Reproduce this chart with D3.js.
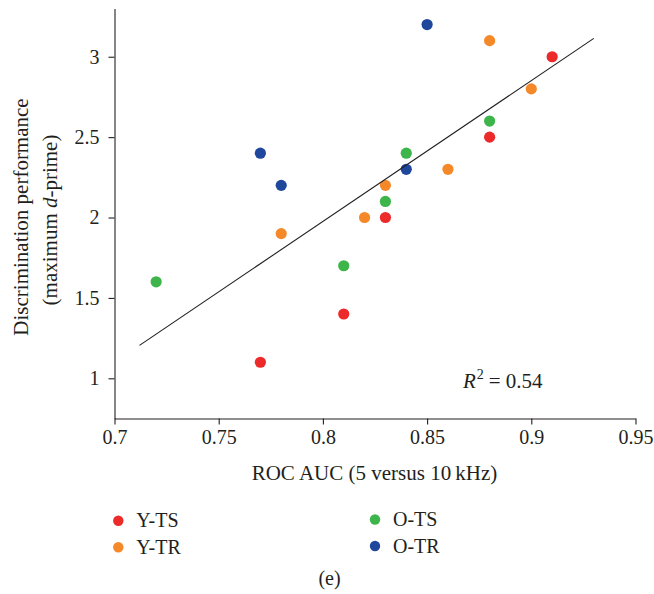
<!DOCTYPE html>
<html>
<head>
<meta charset="utf-8">
<script src="https://cdn.jsdelivr.net/npm/d3@7"></script>
<style>
  html, body { margin: 0; padding: 0; background: #fff; }
  svg { display: block; }
  text { font-family: "Liberation Serif", "Times New Roman", serif; fill: #231f20; }
</style>
</head>
<body>
<svg id="chart" width="654" height="594"></svg>
<script>
// ---- data ----
const groups = ["Y-TS", "Y-TR", "O-TS", "O-TR"];
const groupColors = ["#ec2a2a", "#f5892a", "#3db54a", "#1f489c"];

const ytsX = [0.91, 0.88, 0.83, 0.81, 0.77];
const ytsY = [3.0, 2.5, 2.0, 1.4, 1.1];

const ytrX = [0.88, 0.90, 0.86, 0.83, 0.82, 0.78];
const ytrY = [3.1, 2.8, 2.3, 2.2, 2.0, 1.9];

const otsX = [0.88, 0.84, 0.83, 0.81, 0.72];
const otsY = [2.6, 2.4, 2.1, 1.7, 1.6];

const otrX = [0.85, 0.84, 0.77, 0.78];
const otrY = [3.2, 2.3, 2.4, 2.2];

const trendX = [0.712, 0.930];
const trendY = [1.205, 3.114];

const xTicks = [0.7, 0.75, 0.8, 0.85, 0.9, 0.95];
const xTickLabels = ["0.7", "0.75", "0.8", "0.85", "0.9", "0.95"];
const yTicks = [1, 1.5, 2, 2.5, 3];
const yTickLabels = ["1", "1.5", "2", "2.5", "3"];

const xTitle = "ROC AUC (5 versus 10\u2009kHz)";
const yTitle1 = "Discrimination performance";
const rSquared = "0.54";
const panelLabel = "(e)";

// ---- build ----
const seriesX = [ytsX, ytrX, otsX, otrX];
const seriesY = [ytsY, ytrY, otsY, otrY];
const points = [];
groups.forEach((g, i) => seriesX[i].forEach((x, j) => points.push({ g: i, x: x, y: seriesY[i][j] })));

const svg = d3.select("#chart");
const x = d3.scaleLinear().domain([0.7, 0.95]).range([114.5, 635.5]);
const y = d3.scaleLinear().domain([0.75, 3.3]).range([418.5, 8.5]);

// axes
const xAxis = d3.axisBottom(x).tickValues(xTicks).tickFormat((d, i) => xTickLabels[i]).tickSize(6).tickSizeOuter(0).tickPadding(5);
const yAxis = d3.axisLeft(y).tickValues(yTicks).tickFormat((d, i) => yTickLabels[i]).tickSize(6).tickSizeOuter(0).tickPadding(9);

const gx = svg.append("g").attr("transform", "translate(0,418.5)").call(xAxis);
const gy = svg.append("g").attr("transform", "translate(114.5,0)").call(yAxis);
[gx, gy].forEach(g => {
  g.select(".domain").attr("stroke", "#231f20").attr("stroke-width", 1.1);
  g.selectAll(".tick line").attr("stroke", "#231f20").attr("stroke-width", 1.1);
  g.selectAll(".tick text").attr("font-size", 20).attr("font-family", "Liberation Serif, serif").attr("fill", "#231f20");
});

// points
svg.append("g").selectAll("circle").data(points).join("circle")
  .attr("cx", d => x(d.x)).attr("cy", d => y(d.y)).attr("r", 5.6)
  .attr("fill", d => groupColors[d.g]);

// trend line
svg.append("line")
  .attr("x1", x(trendX[0])).attr("y1", y(trendY[0]))
  .attr("x2", x(trendX[1])).attr("y2", y(trendY[1]))
  .attr("stroke", "#231f20").attr("stroke-width", 1.1);

// R^2
const rt = svg.append("text").attr("x", 463).attr("y", 388).attr("font-size", 21);
rt.append("tspan").attr("font-style", "italic").text("R");
rt.append("tspan").attr("font-size", 14).attr("dy", -9).attr("dx", 1).text("2");
rt.append("tspan").attr("dy", 9).attr("dx", 5).text("=");
rt.append("tspan").attr("dx", 5).text(rSquared);

// x title
svg.append("text").attr("x", 374.5).attr("y", 479.5).attr("text-anchor", "middle")
  .attr("font-size", 21).text(xTitle);

// y title (two lines, rotated)
svg.append("text").attr("transform", "translate(28,217) rotate(-90)")
  .attr("text-anchor", "middle").attr("font-size", 21).text(yTitle1);
const yt2 = svg.append("text").attr("transform", "translate(56.5,220) rotate(-90)")
  .attr("text-anchor", "middle").attr("font-size", 21);
yt2.append("tspan").text("(maximum ");
yt2.append("tspan").attr("font-style", "italic").text("d");
yt2.append("tspan").text("-prime)");

// legend
const legPos = [[118.3, 520.7], [118.3, 547.3], [375, 519.5], [375, 546]];
const leg = svg.append("g").selectAll("g").data(groups).join("g")
  .attr("transform", (d, i) => `translate(${legPos[i][0]},${legPos[i][1]})`);
leg.append("circle").attr("r", 5.2).attr("fill", (d, i) => groupColors[i]);
leg.append("text").attr("x", 18).attr("y", 6.7).attr("font-size", 20).text(d => d);

// panel label
svg.append("text").attr("x", 329.5).attr("y", 585).attr("text-anchor", "middle")
  .attr("font-size", 20).text(panelLabel);
</script>
</body>
</html>
